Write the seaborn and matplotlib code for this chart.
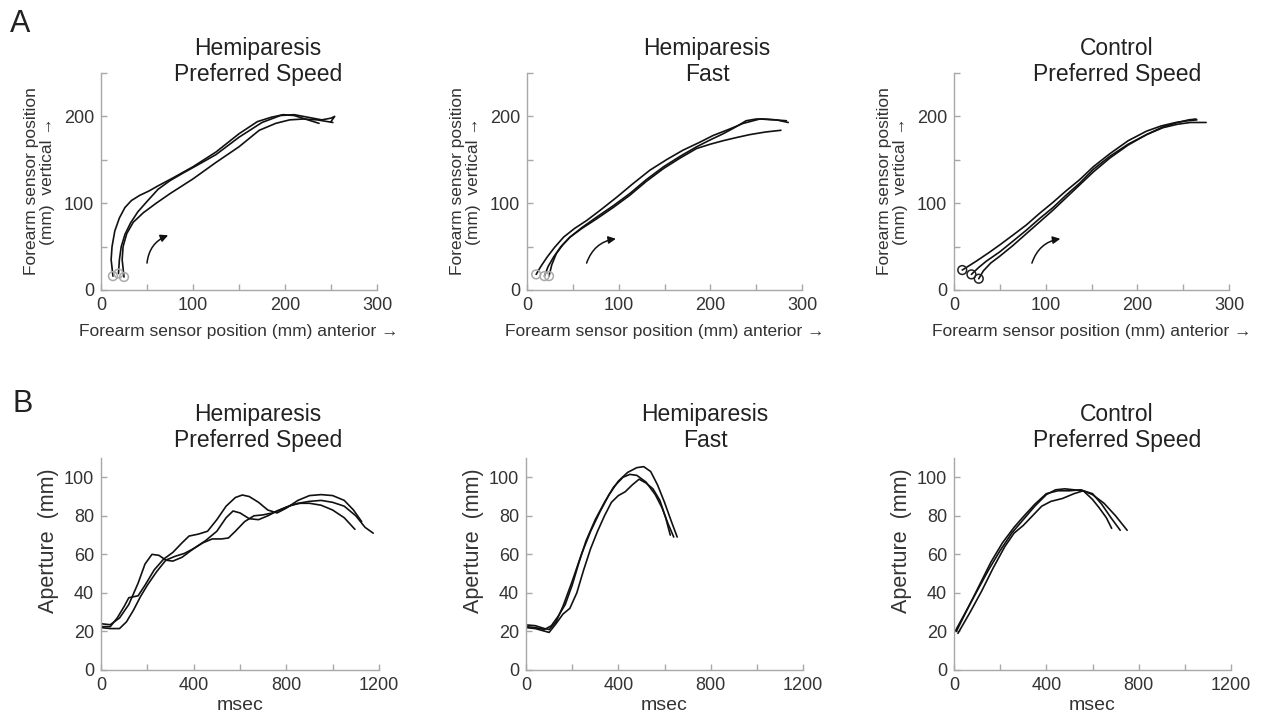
import pandas as pd
import seaborn as sns
import matplotlib.pyplot as plt

# ---- A: forearm sensor trajectories (mm), three trials per condition ----
hp_pref_x = [
    [13, 11, 12, 15, 20, 26, 33, 42, 52, 62, 78, 100, 125, 150, 170, 185, 198, 210, 222, 237],
    [19, 20, 22, 26, 32, 40, 50, 62, 75, 88, 105, 125, 150, 175, 195, 210, 225, 240, 250, 254, 250],
    [25, 23, 24, 28, 35, 46, 60, 75, 100, 125, 150, 172, 190, 205, 220, 235, 252],
]
hp_pref_y = [
    [16, 35, 50, 68, 83, 95, 103, 109, 114, 120, 129, 142, 159, 180, 194, 199, 202, 201, 197, 192],
    [19, 35, 50, 64, 77, 90, 102, 116, 126, 134, 144, 156, 176, 193, 201, 202, 199, 196, 198, 200, 194],
    [15, 35, 50, 65, 78, 89, 100, 111, 128, 147, 165, 184, 192, 196, 197, 196, 193],
]
hp_fast_x = [
    [10, 15, 22, 30, 40, 52, 65, 80, 98, 115, 134, 152, 170, 188, 203, 220, 236, 254, 270, 283],
    [19, 23, 29, 37, 47, 60, 76, 94, 112, 130, 149, 167, 185, 200, 214, 228, 239, 250, 258, 272, 285],
    [24, 27, 32, 39, 47, 60, 76, 94, 112, 130, 149, 167, 185, 200, 214, 230, 243, 260, 277],
]
hp_fast_y = [
    [18, 27, 38, 49, 61, 71, 80, 92, 107, 122, 138, 150, 161, 170, 178, 185, 192, 197, 196, 195],
    [16, 27, 38, 50, 61, 72, 84, 97, 111, 127, 142, 154, 165, 173, 180, 188, 195, 197, 197, 196, 193],
    [16, 29, 42, 52, 61, 71, 82, 95, 109, 125, 140, 152, 163, 168, 172, 176, 179, 182, 184],
]
ctl_pref_x = [
    [9, 24, 38, 50, 64, 79, 93, 108, 122, 137, 152, 170, 190, 210, 226, 242, 255, 265],
    [19, 27, 35, 50, 64, 79, 93, 108, 122, 137, 152, 170, 190, 210, 228, 244, 258, 275],
    [27, 32, 40, 50, 64, 79, 93, 108, 122, 137, 152, 170, 190, 210, 228, 244, 256, 264],
]
ctl_pref_y = [
    [23, 33, 43, 52, 63, 75, 88, 101, 114, 127, 142, 157, 172, 183, 189, 193, 195, 196],
    [18, 26, 33, 44, 56, 69, 82, 95, 109, 123, 139, 154, 168, 179, 187, 191, 193, 193],
    [13, 22, 31, 39, 51, 65, 78, 92, 106, 121, 136, 152, 167, 179, 188, 193, 196, 197],
]

# ---- B: grip aperture (mm) over time (msec) ----
ap_hp_pref_t = [
    [0, 40, 80, 120, 160, 190, 220, 250, 280, 310, 350, 400, 450, 500, 540, 570, 600, 640, 680, 720,
     760, 800, 850, 900, 950, 1000, 1050, 1100, 1140, 1175],
    [0, 40, 70, 100, 120, 160, 190, 230, 270, 310, 350, 380, 420, 460, 500, 540, 580, 610, 640, 680,
     720, 760, 800, 850, 900, 950, 1000, 1050, 1090, 1125],
    [0, 40, 80, 110, 140, 170, 200, 240, 280, 320, 360, 400, 440, 480, 520, 550, 580, 620, 660, 700,
     740, 780, 820, 860, 900, 950, 1000, 1050, 1096],
]
ap_hp_pref_a = [
    [24, 23.5, 27, 34, 45, 55, 60, 59.5, 57, 56.5, 58.5, 63, 67, 72, 79, 82.5, 81.5, 78.5, 78, 80,
     82.5, 84.5, 86.5, 87.5, 88, 87, 85, 80, 74, 71],
    [22.5, 22.5, 27, 33, 37.5, 38.5, 44, 52, 57.5, 61, 66, 69.5, 70.5, 72, 78, 85, 89.5, 90.8, 90, 87,
     83, 81.5, 84, 88, 90.5, 91, 90.5, 88, 83, 77],
    [22, 21.5, 21.5, 25, 31, 38, 44, 51, 57, 59, 60.5, 63, 66, 68, 68, 68.5, 72, 77, 80, 80.5,
     81.5, 83.5, 85.5, 86.5, 86.5, 85.5, 83, 79, 73],
]
ap_hp_fast_t = [
    [0, 40, 80, 100, 130, 160, 200, 240, 280, 320, 360, 400, 440, 480, 510, 540, 570, 600, 630, 655],
    [0, 40, 80, 110, 140, 170, 200, 230, 260, 300, 340, 380, 420, 450, 480, 520, 560, 590, 615, 640],
    [0, 40, 70, 100, 130, 160, 190, 220, 250, 280, 310, 340, 370, 400, 430, 460, 490, 520, 550, 580, 605, 625],
]
ap_hp_fast_a = [
    [23.4, 23, 21.5, 21, 25, 33, 46, 60, 72, 82, 91, 98, 102.5, 105, 105.5, 103, 96, 87, 77, 69],
    [22.5, 22, 21, 23, 28, 34, 44, 56, 67, 78, 87, 95, 100, 101.5, 101, 97.5, 91, 84, 76, 69],
    [22, 21.5, 20.5, 19.5, 24, 29, 32, 40, 52, 63, 72, 80, 87, 90.5, 92.5, 96, 99, 97, 94, 88, 79, 70],
]
ap_ctl_pref_t = [
    [7, 50, 100, 150, 200, 250, 300, 350, 400, 440, 480, 520, 560, 600, 630, 660, 683],
    [10, 60, 110, 160, 210, 260, 300, 350, 400, 450, 500, 550, 600, 650, 700, 750],
    [17, 70, 120, 170, 220, 260, 300, 340, 380, 420, 470, 520, 560, 600, 640, 680, 720],
]
ap_ctl_pref_a = [
    [20.5, 30, 41, 52, 62, 71, 78, 85, 91, 93.5, 94, 93.5, 93, 88.5, 84, 79, 73.5],
    [20, 32, 44, 56, 66, 74, 79.5, 86, 91.5, 93, 93, 93.5, 91, 86.5, 80, 72.5],
    [19, 30, 41, 53, 64, 71, 75, 80, 85, 87.5, 89, 91.5, 93, 91.5, 86, 79, 72.5],
]

titles = ["Hemiparesis\nPreferred Speed", "Hemiparesis\nFast", "Control\nPreferred Speed"]
# direction-of-movement arrows (start, end) in data units
arrows = [((50, 31), (73, 63)), ((65, 31), (97, 59)), ((85, 31), (116, 59))]


def to_long(xs, ys, xname, yname):
    frames = []
    for i, (x, y) in enumerate(zip(xs, ys)):
        frames.append(pd.DataFrame({xname: x, yname: y, "trial": i}))
    return pd.concat(frames, ignore_index=True)


sns.set_style("ticks")
plt.rcParams["font.family"] = ["Liberation Sans", "DejaVu Sans"]
TXT = "#333333"
SPINE = "#a8a8a8"

fig = plt.figure(figsize=(12.65, 7.12), dpi=100)
W, H = 1265, 712


def px_axes(left, top, right, bottom):
    return fig.add_axes([left / W, 1 - bottom / H, (right - left) / W, (bottom - top) / H])


def style(ax):
    sns.despine(ax=ax)
    for s in ["left", "bottom"]:
        ax.spines[s].set_color(SPINE)
        ax.spines[s].set_linewidth(1.0)
    ax.tick_params(direction="in", length=4, width=1, color=SPINE, bottom=True, left=True,
                   labelsize=13, labelcolor=TXT, pad=5)


top_axes = [px_axes(101, 73, 377, 290), px_axes(527, 73, 802, 290), px_axes(954, 73, 1229, 290)]
bot_axes = [px_axes(101, 458, 379, 670), px_axes(526, 458, 803, 670), px_axes(954, 458, 1231, 670)]

traj = [(hp_pref_x, hp_pref_y), (hp_fast_x, hp_fast_y), (ctl_pref_x, ctl_pref_y)]
circle_colors = ["#aaaaaa", "#aaaaaa", "#222222"]
title_x_top = [0.569, 0.655, 0.593]
title_x_bot = [0.565, 0.646, 0.588]

for k, ax in enumerate(top_axes):
    xs, ys = traj[k]
    df = to_long(xs, ys, "ant", "vert")
    sns.lineplot(data=df, x="ant", y="vert", units="trial", estimator=None, sort=False,
                 color="#111111", lw=1.2, ax=ax, legend=False)
    starts = pd.DataFrame({"ant": [x[0] for x in xs], "vert": [y[0] for y in ys]})
    sns.scatterplot(data=starts, x="ant", y="vert", s=40, facecolor="none",
                    edgecolor=circle_colors[k], linewidth=1.1, ax=ax, zorder=3)
    (sx, sy), (ex, ey) = arrows[k]
    ax.annotate("", xy=(ex, ey), xytext=(sx, sy),
                arrowprops=dict(arrowstyle="-|>", connectionstyle="arc3,rad=-0.3",
                                color="#111111", lw=1.1, mutation_scale=11, shrinkA=0, shrinkB=0))
    ax.set_xlim(0, 300)
    ax.set_ylim(0, 250)
    ax.set_xticks(range(0, 301, 50))
    ax.set_xticklabels([str(v) if v % 100 == 0 else "" for v in range(0, 301, 50)])
    ax.set_yticks(range(0, 251, 50))
    ax.set_yticklabels([str(v) if v % 100 == 0 else "" for v in range(0, 251, 50)])
    style(ax)
    ax.set_xlabel("Forearm sensor position (mm) anterior \u2192", fontsize=12.5, color=TXT, labelpad=7)
    ax.set_ylabel("Forearm sensor position\n(mm)  vertical \u2192", fontsize=12.5, color=TXT,
                  labelpad=6, linespacing=1.1)
    ax.set_title(titles[k], fontsize=16.5, color="#222222", x=title_x_top[k], y=0.963, pad=0,
                 linespacing=1.15)

aper = [(ap_hp_pref_t, ap_hp_pref_a), (ap_hp_fast_t, ap_hp_fast_a), (ap_ctl_pref_t, ap_ctl_pref_a)]
for k, ax in enumerate(bot_axes):
    ts, aps = aper[k]
    df = to_long(ts, aps, "msec", "aperture")
    sns.lineplot(data=df, x="msec", y="aperture", units="trial", estimator=None, sort=False,
                 color="#111111", lw=1.2, ax=ax, legend=False)
    ax.set_xlim(0, 1200)
    ax.set_ylim(0, 110)
    ax.set_xticks(range(0, 1201, 200))
    ax.set_xticklabels([str(v) if v % 400 == 0 else "" for v in range(0, 1201, 200)])
    ax.set_yticks(range(0, 101, 20))
    style(ax)
    ax.set_xlabel("msec", fontsize=14, color=TXT, labelpad=2)
    ax.set_ylabel("Aperture  (mm)", fontsize=15.5, color=TXT)
    ax.yaxis.set_label_coords(-0.15, 0.608)
    ax.set_title(titles[k], fontsize=16.5, color="#222222", x=title_x_bot[k], y=1.052, pad=0,
                 linespacing=1.15)

fig.text(10 / W, 1 - 32 / H, "A", fontsize=22, color="#222222", va="baseline")
fig.text(12 / W, 1 - 412 / H, "B", fontsize=22, color="#222222", va="baseline")

fig.savefig("out.png", dpi=100, facecolor="white")
